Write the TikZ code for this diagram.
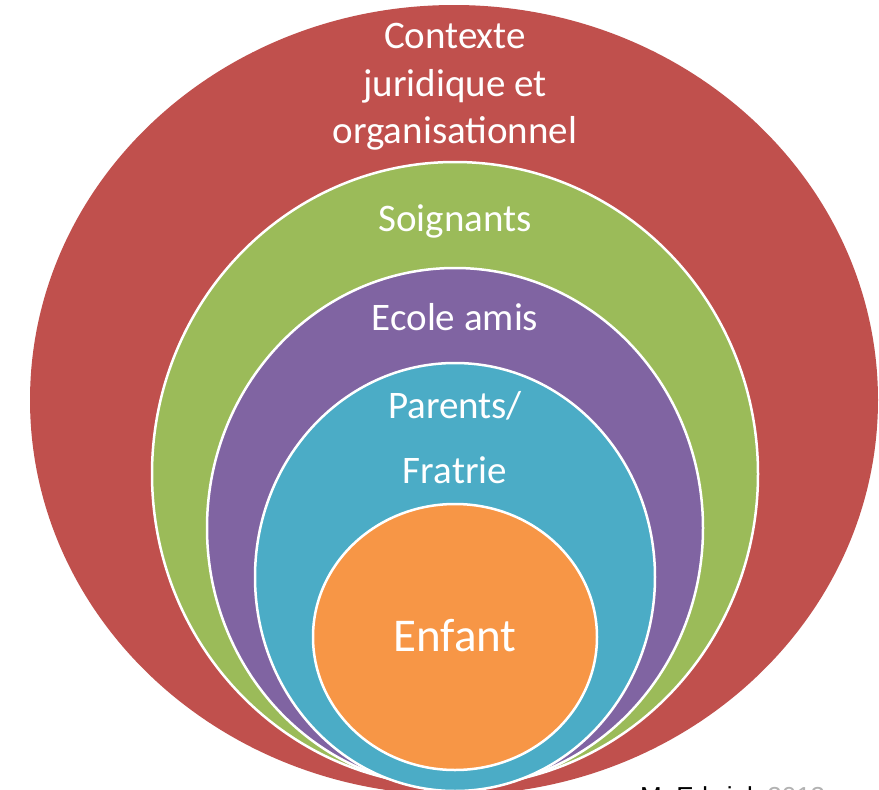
\documentclass[tikz,border=0pt]{standalone}
\usepackage{fontspec}
\setmainfont{Carlito}
\newfontfamily\arialfont{Liberation Sans}
\definecolor{cred}{HTML}{C0504D}
\definecolor{cgreen}{HTML}{9BBB59}
\definecolor{cpurple}{HTML}{8064A2}
\definecolor{cteal}{HTML}{4BACC6}
\definecolor{corange}{HTML}{F79646}
\begin{document}
\begin{tikzpicture}[x=1pt,y=-1pt,
  ring/.style={draw=white,line width=2.5pt},
  lbl/.style={text=white,anchor=base,inner sep=0pt,font=\fontsize{39}{47}\selectfont},
  big/.style={text=white,anchor=base,inner sep=0pt,font=\fontsize{47}{56}\selectfont}]
\useasboundingbox (0,0) rectangle (879,790);
\clip (0,0) rectangle (879,790);
\fill[white] (0,0) rectangle (879,790);
\fill[cred] (454,400) ellipse [x radius=424pt, y radius=395pt];
\filldraw[ring,fill=cgreen] (455,474) ellipse [x radius=303pt, y radius=312pt];
\filldraw[ring,fill=cpurple] (455,528) ellipse [x radius=248pt, y radius=260pt];
\filldraw[ring,fill=cteal] (455,577) ellipse [x radius=200pt, y radius=214pt];
\filldraw[ring,fill=corange] (455,637) ellipse [x radius=142pt, y radius=133pt];
\node[lbl] (ctx1) at (455,48) {Contexte};
\node[lbl] (ctx2) at (455,96) {juridique et};
\node[lbl] (ctx3) at (455,143) {organisationnel};
\node[lbl] (soi) at (455,231) {Soignants};
\node[lbl] (eco) at (455,330) {Ecole amis};
\node[lbl] (par) at (455,418) {Parents/};
\node[lbl] (fra) at (455,483) {Fratrie};
\node[big] (enf) at (455,651) {Enfant};
\node[anchor=base west,inner sep=0pt,font=\arialfont\fontsize{26}{30}\selectfont] (src) at (640,805) {M. Edwink \textcolor{gray!60}{2013}};
\end{tikzpicture}
\end{document}
